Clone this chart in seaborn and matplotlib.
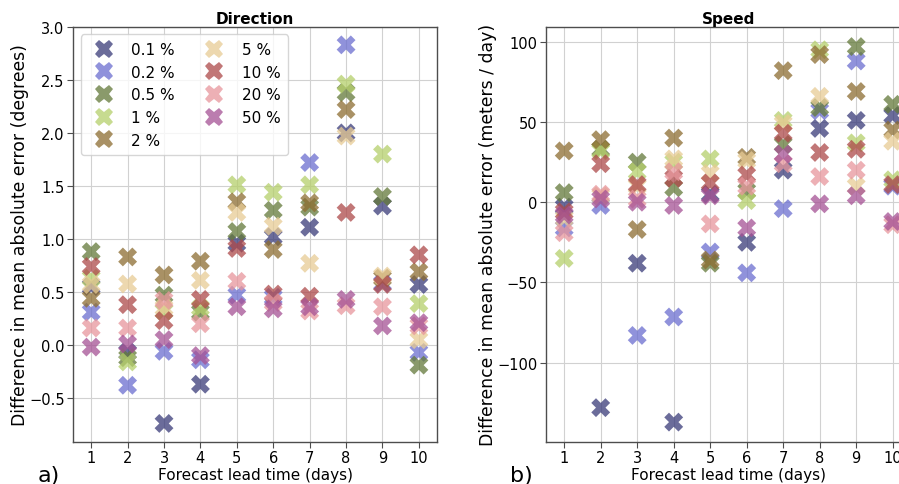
import numpy as np
import pandas as pd
import seaborn as sns
import matplotlib
matplotlib.use("Agg")
import matplotlib.pyplot as plt

# Lead times and thresholds
days = [1, 2, 3, 4, 5, 6, 7, 8, 9, 10]
thresholds = ["0.1 %", "0.2 %", "0.5 %", "1 %", "2 %", "5 %", "10 %", "20 %", "50 %"]

# Difference in MAE of direction (degrees), one list per threshold
dir_01 = [0.55, -0.07, -0.74, -0.37, 0.96, 1.02, 1.11, 2.00, 1.31, 0.57]
dir_02 = [0.31, -0.38, -0.06, -0.14, 0.47, 0.45, 1.72, 2.83, 0.58, -0.07]
dir_05 = [0.88, -0.12, 0.47, 0.31, 1.07, 1.27, 1.30, 2.38, 1.40, -0.19]
dir_1 = [0.63, -0.16, 0.32, 0.35, 1.51, 1.44, 1.51, 2.46, 1.80, 0.39]
dir_2 = [0.44, 0.83, 0.66, 0.79, 1.35, 0.90, 1.34, 2.22, 0.63, 0.69]
dir_5 = [0.57, 0.575, 0.35, 0.61, 1.25, 1.12, 0.77, 1.97, 0.65, 0.05]
dir_10 = [0.74, 0.38, 0.23, 0.43, 0.91, 0.48, 0.46, 1.25, 0.57, 0.85]
dir_20 = [0.16, 0.16, 0.42, 0.20, 0.60, 0.40, 0.32, 0.37, 0.36, 0.18]
dir_50 = [-0.02, 0.01, 0.05, -0.10, 0.36, 0.34, 0.36, 0.43, 0.18, 0.21]

# Difference in MAE of speed (meters / day)
spd_01 = [-3, -128, -38, -137, 5, -25, 20, 46, 51, 54]
spd_02 = [-16, -2, -83, -71.5, -31, -44, -4, 57, 88, 10]
spd_05 = [6, 33, 25, 9, -38, 7, 36, 59, 97, 61]
spd_1 = [-35, 32, 19, 25, 27, 1, 51, 95, 37, 14]
spd_2 = [32, 39, -17, 40, -36, 28, 82, 92, 69, 45]
spd_5 = [-10, 4, 10, 27, 18, 26, 49, 66, 10, 38]
spd_10 = [-6, 24, 11, 15, 12, 17, 43, 31, 33, 11]
spd_20 = [-19, 5, 2, 19, -13.5, 10, 24, 16, 20, -14]
spd_50 = [-8, 2, 0, -2, 4, -16, 30, -1, 4, -12]

colors = ["#393b79", "#6b6ecf", "#637939", "#b5cf6b", "#8c6d31",
          "#e7cb94", "#ad494a", "#e7969c", "#a55194"]


def long_table(series):
    rows = []
    for name, vals in zip(thresholds, series):
        for d, v in zip(days, vals):
            rows.append({"day": d, "value": v, "threshold": name})
    return pd.DataFrame(rows)


df_dir = long_table([dir_01, dir_02, dir_05, dir_1, dir_2, dir_5, dir_10, dir_20, dir_50])
df_spd = long_table([spd_01, spd_02, spd_05, spd_1, spd_2, spd_5, spd_10, spd_20, spd_50])

sns.set_style("whitegrid", {"axes.edgecolor": ".3", "grid.color": ".82",
                            "xtick.bottom": True, "ytick.left": True,
                            "text.color": "black", "axes.labelcolor": "black",
                            "xtick.color": "black", "ytick.color": "black"})
plt.rcParams["font.family"] = ["DejaVu Sans"]

fig = plt.figure(figsize=(8.99, 4.85), dpi=100)
ax1 = fig.add_axes([0.0812, 0.0866, 0.405, 0.856])
ax2 = fig.add_axes([0.6073, 0.0866, 0.406, 0.856])

palette = dict(zip(thresholds, colors))
for ax, df, show_legend in [(ax1, df_dir, True), (ax2, df_spd, False)]:
    sns.scatterplot(data=df, x="day", y="value", hue="threshold", hue_order=thresholds,
                    palette=palette, marker="X", s=185, alpha=0.75, linewidth=0,
                    legend=show_legend, ax=ax)
    ax.set_xlim(0.5, 10.5)
    ax.set_xticks(days)
    ax.tick_params(labelsize=10.5, length=4, pad=2)
    ax.tick_params(color=".3")
    ax.set_xlabel("Forecast lead time (days)", fontsize=11, labelpad=1)
    for s in ax.spines.values():
        s.set_linewidth(1.0)

ax1.set_ylim(-0.915, 3.0)
ax1.set_yticks(np.arange(-0.5, 3.01, 0.5))
ax1.set_ylabel("Difference in mean absolute error (degrees)", fontsize=12.4, labelpad=0)
ax1.set_title("Direction", fontsize=11, fontweight="bold", pad=3)

ax2.set_ylim(-149.4, 109.3)
ax2.set_yticks([-100, -50, 0, 50, 100])
ax2.set_ylabel("Difference in mean absolute error (meters / day)", fontsize=12.4, labelpad=0)
ax2.set_title("Speed", fontsize=11, fontweight="bold", pad=3)

sns.move_legend(ax1, "upper left", ncol=2, title=None, frameon=True,
                fontsize=11, columnspacing=1.6, handletextpad=0.8,
                labelspacing=0.5, borderpad=0.5)

fig.text(0.042, 0.006, "a)", fontsize=16)
fig.text(0.567, 0.006, "b)", fontsize=16)

fig.savefig("out.png", dpi=100)
